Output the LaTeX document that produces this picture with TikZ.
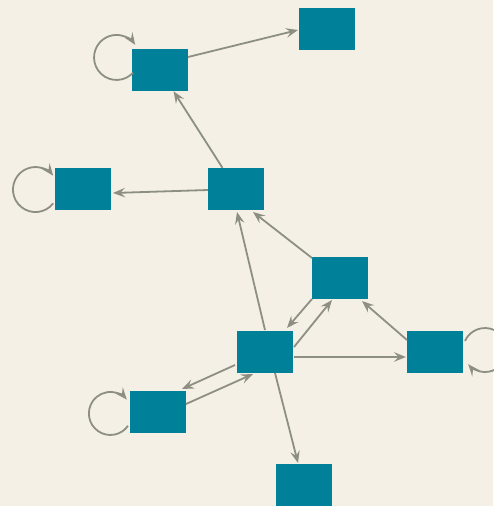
\documentclass[tikz,border=0pt]{standalone}
\usetikzlibrary{arrows.meta,calc}
\definecolor{paper}{RGB}{245,240,229}
\definecolor{boxfill}{RGB}{0,128,153}
\definecolor{wire}{RGB}{140,143,130}
\tikzset{
  vbox/.style={rectangle, fill=boxfill, draw=none, minimum width=56pt, minimum height=42pt, inner sep=0pt},
  edge/.style={draw=wire, line width=1.8pt, -{Stealth[length=12pt,width=9.5pt,inset=4.5pt]}},
}
\begin{document}
\begin{tikzpicture}[x=1pt,y=-1pt]
  \path[fill=paper, use as bounding box] (0,0) rectangle (493,506);

  % vertices
  \node[vbox] (A) at (160,70) {};
  \node[vbox] (B) at (327,29) {};
  \node[vbox] (C) at (236,189) {};
  \node[vbox] (D) at (83,189) {};
  \node[vbox] (E) at (340,277.5) {};
  \node[vbox] (F) at (265,351.5) {};
  \node[vbox] (G) at (435,351.5) {};
  \node[vbox] (H) at (158,412) {};
  \node[vbox] (I) at (304,485) {};

  % directed edges
  \draw[edge] ($(A)+(28,-13)$) -- ($(B)+(-29,1)$);
  \draw[edge] (C) -- (A);
  \draw[edge] ($(C)+(-28,1)$) -- ($(D)+(30,4)$);
  \draw[edge] ($(E)+(-28,-19.5)$) -- ($(C)+(17,23)$);
  \draw[edge] ($(F)+(0,-21.5)$) -- ($(C)+(1,23)$);
  \draw[edge] ($(F)+(10,21.5)$) -- ($(I)+(-6,-22)$);
  \draw[edge] ($(E)+(-28,21.5)$) -- ($(F)+(22,-23.5)$);
  \draw[edge] ($(F)+(29,-4.5)$) -- ($(E)+(-8,22.5)$);
  \draw[edge] ($(G)+(-28,-11.5)$) -- ($(E)+(22,23.5)$);
  \draw[edge] ($(F)+(29,5.5)$) -- ($(G)+(-29,5.5)$);
  \draw[edge] ($(F)+(-30,13.5)$) -- ($(H)+(24,-23)$);
  \draw[edge] ($(H)+(28,-8)$) -- ($(F)+(-12,22.5)$);

  % self loops
  \draw[edge] ($(A)+(-27,2.8)$) arc[start angle=43, end angle=326, radius=22.5];
  \draw[edge] ($(D)+(-29.8,14.4)$) arc[start angle=38, end angle=322, radius=22.5];
  \draw[edge] ($(H)+(-30,13.8)$) arc[start angle=35, end angle=320, radius=21.5];
  \draw[edge] ($(G)+(30,-10.6)$) arc[start angle=204.5, end angle=500, radius=22];
\end{tikzpicture}
\end{document}
